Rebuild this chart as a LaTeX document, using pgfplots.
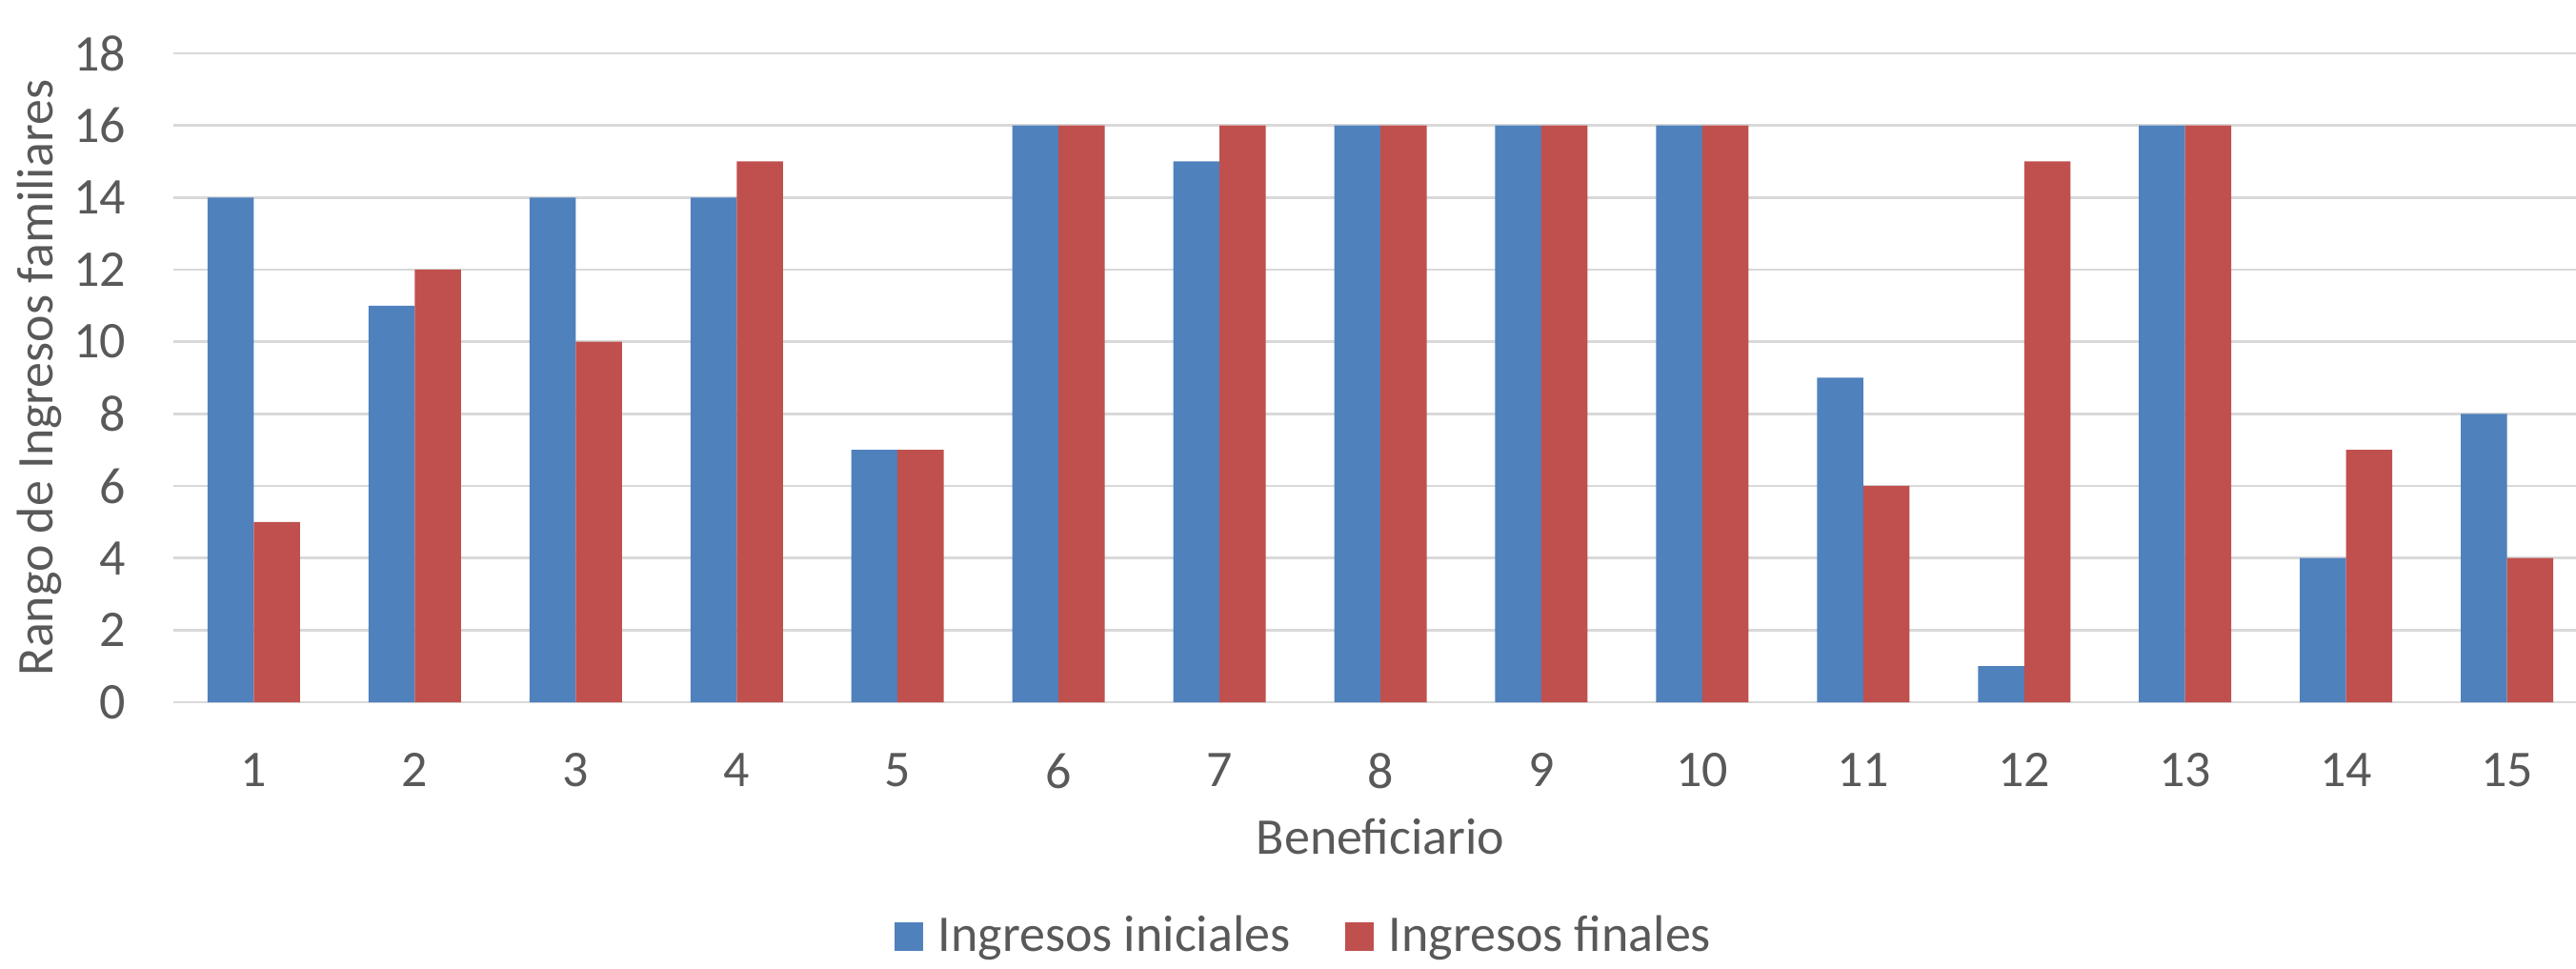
\documentclass[border=0pt]{standalone}
\usepackage{pgfplots}
\pgfplotsset{compat=1.18}
\usepackage{fontspec}
\setmainfont{Carlito}
\definecolor{txt}{HTML}{595959}
\definecolor{grd}{HTML}{D9D9D9}
\definecolor{cblue}{HTML}{4F81BD}
\definecolor{cred}{HTML}{C0504D}
\begin{document}
\begin{tikzpicture}
\begin{axis}[
  at={(0,0)}, anchor=south west,
  scale only axis, width=633.5pt, height=170.25pt,
  xmin=0.5, xmax=15.5, ymin=0, ymax=18,
  xtick={1,...,15}, ytick={0,2,...,18},
  ymajorgrids, major grid style={grd, line width=0.6pt},
  axis line style={draw=none}, tick style={draw=none},
  font=\fontsize{13.5pt}{16pt}\selectfont\color{txt},
  /pgf/number format/assume math mode=true,
  yticklabel style={anchor=east, inner sep=0pt, xshift=-12.3pt, text=txt},
  xticklabel style={anchor=north, inner sep=0pt, yshift=-9pt, text=txt},
  xlabel={Beneficiario},
  ylabel={Rango de Ingresos familiares},
  xlabel style={at={(axis description cs:0.5,-0.2349)}, anchor=base, inner sep=0pt, text=txt},
  ylabel style={at={(axis description cs:-0.0501,0.5)}, anchor=base, rotate=0, inner sep=0pt, text=txt},
  ybar=0pt, bar width=0.287,
  legend columns=-1,
  legend style={draw=none, at={(axis description cs:0.2983,-0.3612)}, anchor=west, inner sep=0pt,
    font=\fontsize{13.5pt}{16pt}\selectfont\color{txt},
    /tikz/column 1/.style={column sep=2pt},
    /tikz/column 2/.style={column sep=12.25pt},
    /tikz/column 3/.style={column sep=2pt}},
  legend image code/.code={\fill[#1] (0pt,-3.75pt) rectangle (7.5pt,3.75pt);},
]
\addplot[fill=cblue, draw=none, bar shift=-0.1435] coordinates {
 (1,14) (2,11) (3,14) (4,14) (5,7) (6,16) (7,15) (8,16) (9,16) (10,16) (11,9) (12,1) (13,16) (14,4) (15,8)};
\addplot[fill=cred, draw=none, bar shift=0.1435] coordinates {
 (1,5) (2,12) (3,10) (4,15) (5,7) (6,16) (7,16) (8,16) (9,16) (10,16) (11,6) (12,15) (13,16) (14,7) (15,4)};
\legend{Ingresos iniciales, Ingresos finales}
\end{axis}
\pgfresetboundingbox
\path[use as bounding box] (-45.5pt,-69.75pt) rectangle (630.5pt,184.25pt);
\end{tikzpicture}
\end{document}
